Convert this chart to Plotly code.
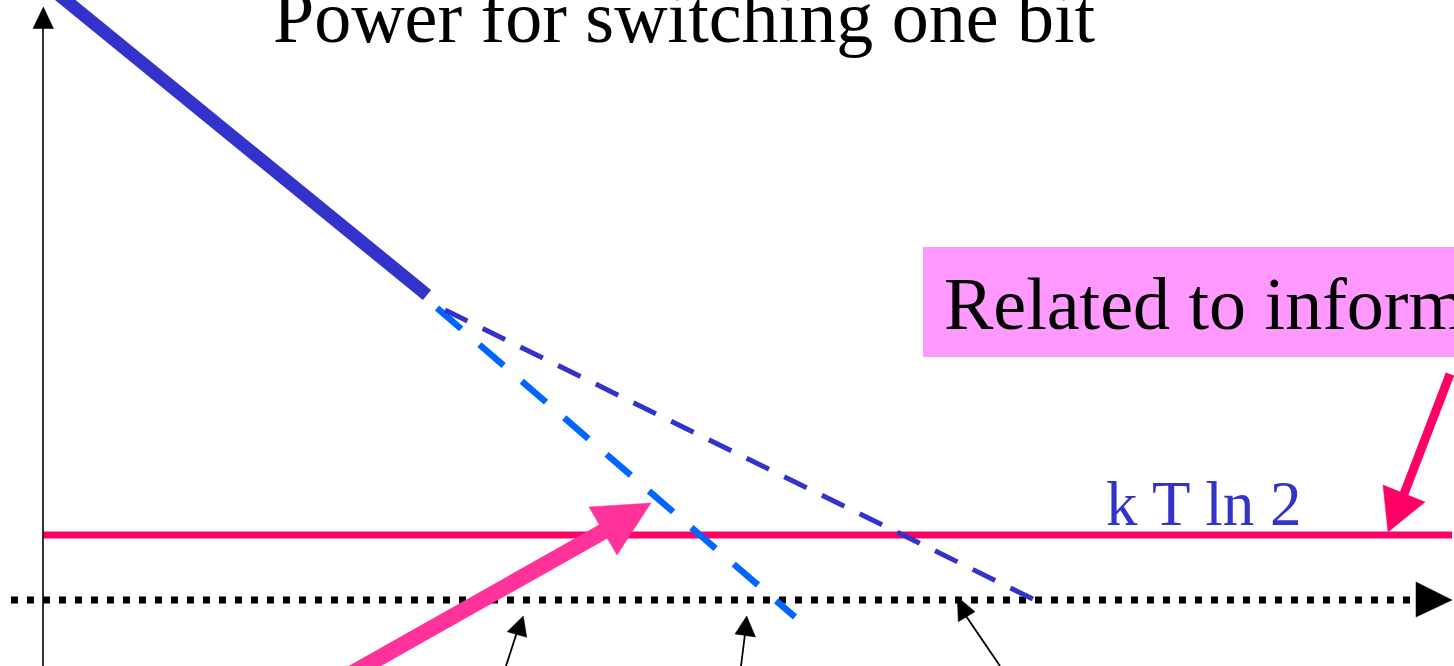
import plotly.graph_objects as go

# ---- canvas (diagram coordinates, pixel-like units, y grows downward) ----
W, H = 1454, 666

# ---- texts ----
title_text = "Power for switching one bit"
box_text = "Related to information"
ktln2_text = "k T ln 2"

# ---- curves (diagram units) ----
solid_x = [53, 427]          # thick solid dark blue segment
solid_y = [-10, 295]
dash_light_x = [437, 795]    # light blue dashed continuation
dash_light_y = [308, 617]
dash_dark_x = [445, 1035]    # dark blue dashed continuation
dash_dark_y = [310, 600]
ktln2_x = [43, 1452]         # k T ln 2 level
ktln2_y = [535, 535]
zero_x = [11, 1418]          # dotted horizontal axis
zero_y = [600, 600]
yaxis_x = [43, 43]           # vertical axis line
yaxis_y = [666, 22]

# ---- arrow heads (triangles) ----
yhead_x = [43.3, 33, 53.5]
yhead_y = [7, 28.5, 28.5]
xhead_x = [1452, 1416, 1416]
xhead_y = [600, 582, 617]

# big pink arrow
pink_shaft_x = [340, 606]
pink_shaft_y = [680, 530]
pink_head_x = [651, 589, 617]
pink_head_y = [503, 507, 555]

# right red arrow
red_shaft_x = [1450, 1404]
red_shaft_y = [374, 494]
red_head_x = [1388, 1383, 1425]
red_head_y = [532, 485, 502]

# thin black pointers
ptr_line_x = [[506, 517], [741, 745], [1000, 966]]
ptr_line_y = [[666, 632], [666, 634], [666, 616]]
ptr_head_x = [[523.3, 507.3, 526.7], [746.7, 735, 755.5], [957.3, 958.3, 975]]
ptr_head_y = [[616, 631.7, 637.3], [616, 634, 637], [596.7, 621.7, 611.7]]

# ---- colours ----
DARK_BLUE = "#3333CC"
LIGHT_BLUE = "#0066FF"
RED = "#FF0066"
PINK = "#FF3399"
BOX = "#FF99FF"
FONT = "Liberation Serif, Times New Roman, serif"

fig = go.Figure()


def line(x, y, color, width, dash="solid"):
    fig.add_trace(go.Scatter(x=x, y=y, mode="lines", hoverinfo="skip",
                             line=dict(color=color, width=width, dash=dash)))


def tri(x, y, color):
    fig.add_trace(go.Scatter(x=x + [x[0]], y=y + [y[0]], mode="lines", fill="toself",
                             fillcolor=color, hoverinfo="skip",
                             line=dict(color=color, width=0.5)))


line(ktln2_x, ktln2_y, RED, 7)
line(zero_x, zero_y, "black", 7, "7px,9px")
tri(xhead_x, xhead_y, "black")
line(yaxis_x, yaxis_y, "black", 1.6)
tri(yhead_x, yhead_y, "black")

line(solid_x, solid_y, DARK_BLUE, 13)
line(dash_light_x, dash_light_y, LIGHT_BLUE, 6.5, "32px,24px")
line(dash_dark_x, dash_dark_y, DARK_BLUE, 5, "25px,17px")

line(pink_shaft_x, pink_shaft_y, PINK, 16)
tri(pink_head_x, pink_head_y, PINK)
line(red_shaft_x, red_shaft_y, RED, 9)
tri(red_head_x, red_head_y, RED)

for lx, ly, hx, hy in zip(ptr_line_x, ptr_line_y, ptr_head_x, ptr_head_y):
    line(lx, ly, "black", 1.8)
    tri(hx, hy, "black")

fig.add_shape(type="rect", x0=923, x1=1470, y0=247, y1=357, xref="x", yref="y",
              fillcolor=BOX, line=dict(width=0), layer="below")

fig.add_annotation(x=684, y=42 - 25, xref="x", yref="y", text=title_text,
                   showarrow=False, xanchor="center", yanchor="middle",
                   font=dict(family=FONT, size=74, color="black"))
fig.add_annotation(x=942, y=329 - 25, xref="x", yref="y", text=box_text,
                   showarrow=False, xanchor="left", yanchor="middle",
                   font=dict(family=FONT, size=74, color="black"))
fig.add_annotation(x=1203, y=525 - 21, xref="x", yref="y", text=ktln2_text,
                   showarrow=False, xanchor="center", yanchor="middle",
                   font=dict(family=FONT, size=63, color=DARK_BLUE))

fig.update_layout(
    width=W, height=H, margin=dict(l=0, r=0, t=0, b=0),
    paper_bgcolor="white", plot_bgcolor="white", showlegend=False,
    xaxis=dict(range=[0, W], visible=False, fixedrange=True),
    yaxis=dict(range=[H, 0], visible=False, fixedrange=True),
)

fig.write_html("out.html", config={"displayModeBar": False},
               post_script="document.body.style.margin='0';document.body.style.overflow='hidden';")
